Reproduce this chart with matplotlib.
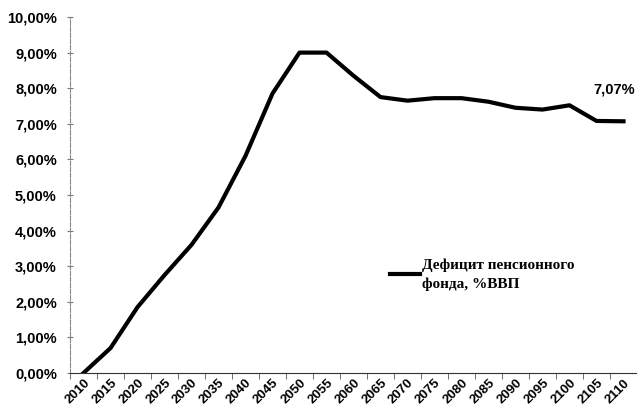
import numpy as np
import matplotlib.pyplot as plt
from matplotlib.ticker import FuncFormatter

# Данные
years = [str(y) for y in range(2010, 2111, 5)]
deficit = [0.0, 0.70, 1.85, 2.75, 3.60, 4.65, 6.10, 7.85, 9.00, 9.00, 8.35,
           7.75, 7.65, 7.72, 7.72, 7.62, 7.45, 7.40, 7.52, 7.08, 7.07]
last_label = "7,07%"
series_name = "Дефицит пенсионного\nфонда, %ВВП"

plt.rcParams['font.family'] = ['Liberation Sans', 'DejaVu Sans']

fig = plt.figure(figsize=(6.37, 4.17), dpi=100)
ax = fig.add_axes([70/637, 1 - 373/417, 567/637, 356/417])

x = np.arange(len(years))
ax.plot(x, deficit, color='black', lw=3, label=series_name, solid_joinstyle='round')

ax.set_xlim(-0.5, len(years) - 0.5)
ax.set_ylim(0, 10)
ax.set_yticks(np.arange(0, 11, 1))
ax.yaxis.set_major_formatter(FuncFormatter(lambda v, p: f"{v:.2f}%".replace('.', ',')))
ax.set_xticks(x)
ax.set_xticklabels(years, rotation=45, ha='right', rotation_mode='anchor', fontweight='bold', fontsize=9.5)
ax.set_xticks(x - 0.5, minor=True)
ax.tick_params(axis='x', which='major', length=0, pad=3)
ax.tick_params(axis='x', which='minor', length=4, direction='out', color='#555555')
ax.tick_params(axis='y', length=5, direction='inout', color='#777777', labelsize=10.5, pad=7)
for lab in ax.get_yticklabels():
    lab.set_fontweight('bold')

for s in ['top', 'right']:
    ax.spines[s].set_visible(False)
ax.spines['left'].set_color('#888888')
ax.spines['left'].set_linestyle((0, (4, 1.5)))
ax.spines['bottom'].set_color('#333333')
ax.spines['bottom'].set_linestyle((0, (6, 1)))

ax.annotate(last_label, (x[-1], deficit[-1]), xytext=(8, 20), textcoords='offset points',
            ha='right', fontweight='bold', fontsize=10.5)

leg = ax.legend(loc='upper left', bbox_to_anchor=(0.54, 0.36), frameon=False,
                handlelength=2.0, handletextpad=0.1, labelspacing=0.6,
                prop={'family': 'Liberation Serif', 'weight': 'bold', 'size': 11})
for t in leg.get_texts():
    t.set_linespacing(1.5)

fig.savefig('out.png', dpi=100)
